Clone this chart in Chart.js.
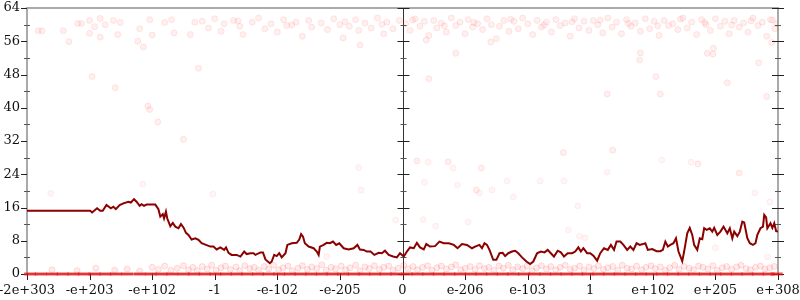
<!DOCTYPE html>
<html>
<head>
<meta charset="utf-8">
<script src="https://cdn.jsdelivr.net/npm/chart.js@4/dist/chart.umd.min.js"></script>
<style>
  body { margin: 0; background: #fff; }
  canvas { display: block; }
</style>
</head>
<body>
<canvas id="grafiek" width="800" height="300"></canvas>
<script>
// tick labels for the x axis (one per axis unit, -6 .. 6)
var tickLabels = ["-2e+303", "-e+203", "-e+102", "-1", "-e-102", "-e-205", "0",
                  "e-206", "e-103", "1", "e+102", "e+205", "e+308"];

// running line (x in axis units)
var lineX = [-6, -4.99, -4.96, -4.88, -4.83, -4.79, -4.73, -4.66, -4.62, -4.58, -4.52, -4.46, -4.38, -4.34, -4.29,
  -4.25, -4.20, -4.17, -4.13, -4.09, -3.95, -3.90, -3.87, -3.83, -3.81, -3.78, -3.76, -3.71, -3.67, -3.63,
  -3.58, -3.54, -3.50, -3.46, -3.42, -3.37, -3.31, -3.26, -3.21, -3.14, -3.07, -3.02, -2.97, -2.91, -2.85,
  -2.82, -2.78, -2.73, -2.65, -2.59, -2.53, -2.49, -2.43, -2.38, -2.35, -2.27, -2.23, -2.19, -2.12, -2.09,
  -2.05, -2.01, -1.97, -1.93, -1.87, -1.84, -1.77, -1.69, -1.65, -1.62, -1.59, -1.56, -1.50, -1.42, -1.37,
  -1.34, -1.32, -1.26, -1.21, -1.16, -1.11, -1.06, -1.01, -0.94, -0.86, -0.78, -0.72, -0.68, -0.62, -0.57,
  -0.51, -0.45, -0.38, -0.33, -0.28, -0.22, -0.15, -0.09, -0.04, 0.02, 0.07, 0.12, 0.18, 0.23, 0.28,
  0.34, 0.38, 0.44, 0.52, 0.59, 0.66, 0.74, 0.82, 0.88, 0.95, 1.03, 1.11, 1.16, 1.23, 1.27,
  1.31, 1.35, 1.39, 1.45, 1.50, 1.55, 1.60, 1.64, 1.69, 1.75, 1.80, 1.85, 1.91, 1.98, 2.04,
  2.09, 2.15, 2.21, 2.27, 2.32, 2.37, 2.42, 2.48, 2.53, 2.58, 2.64, 2.71, 2.76, 2.81, 2.85,
  2.89, 2.95, 3.00, 3.05, 3.11, 3.16, 3.22, 3.28, 3.33, 3.38, 3.42, 3.48, 3.53, 3.59, 3.64,
  3.69, 3.74, 3.79, 3.84, 3.88, 3.92, 3.99, 4.06, 4.12, 4.16, 4.20, 4.24, 4.28, 4.33, 4.37,
  4.41, 4.47, 4.50, 4.55, 4.59, 4.63, 4.66, 4.71, 4.75, 4.79, 4.82, 4.86, 4.91, 4.95, 4.98,
  5.03, 5.08, 5.13, 5.19, 5.23, 5.27, 5.30, 5.35, 5.39, 5.43, 5.46, 5.51, 5.55, 5.60, 5.64,
  5.67, 5.72, 5.76, 5.78, 5.81, 5.83, 5.88, 5.91, 5.94, 5.97, 6.00];
var lineY = [15.2, 15.2, 14.8, 15.8, 15.2, 15.2, 16.6, 15.8, 16.2, 15.6, 16.6, 17.0, 17.4, 17.2, 18.0,
  17.4, 16.4, 16.8, 16.4, 16.7, 16.7, 15.6, 13.8, 14.4, 13.4, 15.0, 13.4, 11.5, 12.3, 11.4,
  11.0, 12.0, 11.2, 9.9, 9.4, 8.3, 8.6, 8.2, 7.4, 7.0, 6.6, 6.6, 5.9, 6.4, 5.8,
  6.4, 5.1, 4.6, 4.6, 4.2, 5.4, 4.8, 5.0, 5.0, 4.6, 5.2, 5.2, 3.5, 2.6, 3.0,
  4.6, 4.3, 5.0, 4.0, 5.0, 7.0, 7.4, 7.5, 8.3, 9.6, 9.0, 7.4, 6.6, 6.2, 5.4,
  4.6, 6.6, 7.0, 7.5, 7.4, 7.8, 7.0, 7.4, 6.2, 5.9, 6.2, 7.0, 5.9, 5.8, 5.4,
  5.4, 4.6, 5.1, 5.0, 5.6, 4.6, 4.2, 4.0, 5.0, 4.2, 5.4, 6.4, 6.2, 7.5, 6.4,
  5.9, 7.2, 6.6, 6.7, 7.8, 7.4, 7.4, 7.0, 6.2, 7.2, 7.0, 6.2, 6.6, 7.0, 6.2,
  7.4, 7.0, 5.8, 3.4, 3.4, 5.0, 5.1, 4.3, 5.0, 5.4, 5.6, 5.0, 4.0, 3.0, 2.4,
  3.0, 5.0, 5.4, 5.2, 5.8, 5.0, 4.2, 5.6, 5.2, 4.2, 5.0, 5.0, 5.4, 6.4, 5.4,
  6.2, 5.0, 5.0, 4.4, 3.2, 5.0, 6.2, 5.8, 7.0, 5.8, 7.8, 7.8, 7.0, 5.8, 6.6,
  5.8, 7.4, 7.0, 7.2, 7.4, 5.8, 6.0, 5.5, 5.5, 5.8, 7.8, 6.6, 7.0, 7.4, 8.6,
  5.4, 3.1, 5.4, 9.8, 11.1, 9.4, 7.0, 5.8, 8.6, 8.4, 11.0, 10.6, 11.0, 10.2, 11.1,
  9.4, 10.2, 11.4, 9.8, 11.0, 8.6, 10.2, 9.1, 10.2, 12.6, 12.4, 8.6, 7.4, 7.0, 7.4,
  9.4, 11.0, 11.4, 14.2, 13.6, 11.0, 12.2, 11.1, 12.2, 10.3, 10.2];

// faint samples near the top
var topX = [-5.82, -5.76, -5.42, -5.33, -5.19, -5.13, -5.00, -4.92, -5.00, -4.83, -4.83, -4.75, -4.96, -4.59,
  -4.62, -4.55, -4.51, -4.23, -4.14, -4.20, -4.04, -4.00, -4.07, -4.04, -3.91, -3.80, -3.69, -3.65, -3.50,
  -3.39, -3.32, -3.26, -3.20, -3.10, -3.00, -2.90, -2.85, -2.70, -2.60, -2.55, -2.40, -2.30, -2.20, -2.10,
  -2.00, -1.90, -1.85, -1.70, -1.60, -1.50, -1.45, -1.30, -1.20, -1.10, -1.00, -0.95, -0.85, -0.75, -0.70,
  -0.60, -0.50, -0.40, -0.30, -0.25, -0.15, -0.05, 0.05, 0.12, 0.20, 0.28, 0.35, 0.42, 0.50, 0.55,
  0.62, 0.70, 0.78, 0.85, 0.92, 1.00, 1.05, 1.12, 1.20, 1.28, 1.35, 1.42, 1.50, 1.55, 1.62,
  1.70, 1.78, 1.85, 1.92, 2.00, 2.08, 2.15, 2.22, 2.30, 2.38, 2.45, 2.52, 2.60, 2.68, 2.75,
  2.82, 2.90, 2.98, 3.05, 3.12, 3.20, 3.28, 3.35, 3.42, 3.50, 3.58, 3.65, 3.72, 3.80, 3.88,
  3.95, 4.02, 4.10, 4.18, 4.25, 4.32, 4.40, 4.48, 4.55, 4.62, 4.70, 4.78, 4.85, 4.92, 5.00,
  5.08, 5.15, 5.22, 5.30, 5.38, 5.45, 5.52, 5.60, 5.68, 5.75, 5.82, 5.88, 5.95, 5.98,
  -0.68, 0.38, 0.42, 0.85, 1.41, 3.27, 3.79, 3.80, 4.05, 4.12, 4.87, 4.96, 4.97, 5.19, 5.69, 5.90, 5.82,
  3.36, 2.57, 0.73, 1.26, 1.18, 4.72, 5.38, 0.23,
  -2.63, -1.77, -0.92, -0.33, 0.16, 0.67, 1.14, 1.73, 2.26, 2.71, 3.16, 3.61, 4.08, 4.44, 4.83, 5.26, 5.57, 5.91];
var topY = [58.5, 58.5, 58.5, 55.9, 60.3, 60.3, 61.0, 59.5, 57.9, 61.5, 57.0, 60.0, 47.5, 44.8,
  61.0, 57.6, 60.5, 56.0, 54.6, 59.0, 61.2, 57.5, 40.4, 39.6, 36.6, 60.5, 61.2, 58.0, 32.4,
  57.6, 60.6, 49.5, 60.8, 59.2, 61.4, 58.4, 60.2, 61.0, 59.6, 57.6, 60.6, 61.6, 59.0, 60.2,
  58.2, 61.2, 59.8, 60.6, 57.2, 61.0, 59.4, 60.4, 58.8, 61.4, 60.0, 56.8, 59.6, 61.2, 58.6,
  60.4, 59.2, 61.6, 57.8, 60.6, 59.0, 61.0, 60.2, 58.6, 61.4, 59.6, 60.8, 57.4, 61.0, 59.2,
  60.4, 58.2, 61.6, 59.8, 60.6, 57.8, 61.2, 59.4, 60.2, 58.8, 61.4, 60.0, 56.6, 59.6, 61.0,
  58.4, 60.8, 59.0, 61.6, 60.2, 57.6, 61.0, 59.4, 60.6, 58.2, 61.2, 59.8, 60.4, 57.2, 61.4,
  59.2, 60.8, 58.6, 61.0, 60.0, 58.0, 61.6, 59.4, 60.6, 57.8, 61.2, 59.6, 60.4, 58.4, 61.4,
  59.0, 60.8, 57.4, 61.0, 59.8, 60.2, 58.8, 61.6, 59.2, 60.6, 57.6, 61.2, 60.0, 58.6, 61.4,
  59.6, 60.8, 57.8, 61.0, 59.4, 60.4, 58.2, 61.6, 59.8, 60.6, 57.2, 61.2, 59.0, 60.2,
  55.1, 56.3, 47.0, 53.1, 55.8, 43.3, 51.5, 53.2, 47.5, 43.3, 53.1, 52.9, 54.3, 46.0, 50.8, 55.7, 42.7,
  29.8, 29.2, 27.0, 25.5, 20.2, 26.5, 24.3, 27.2,
  60.9, 59.9, 60.7, 60.1, 61.1, 59.7, 60.5, 61.3, 59.9, 60.7, 61.1, 60.3, 59.7, 61.3, 60.5, 59.9, 60.9, 61.1];

// faint samples in the middle of the chart
var midX = [-5.62, -4.15, -3.03, -0.70, -0.66, -0.11, 0.35, 0.41, 0.88, 0.81, 0.33, 0.53, 1.05, 1.23, 1.43,
  1.67, 1.77, 2.20, 2.58, 2.80, 2.83, 2.92, 2.65, 3.27, 4.14, 4.61, 5.63, 5.87, 5.00, 5.83, -1.21];
var midY = [19.4, 21.6, 19.2, 25.6, 20.2, 13.0, 22.1, 26.9, 21.4, 25.5, 13.1, 11.5, 12.5, 19.5, 20.2,
  22.4, 18.5, 22.4, 22.4, 16.4, 9.1, 8.7, 10.6, 24.5, 27.4, 26.9, 19.5, 17.3, 6.3, 4.1, 4.2];

// faint samples just above zero
var lowX = [-5.6, -5.2, -4.9, -4.6, -4.4, -4.2, -4.0, -3.9, -3.8, -3.7, -3.6, -3.5, -3.42, -3.35, -3.28,
  -3.2, -3.12, -3.05, -2.98, -2.9, -2.83, -2.75, -2.66, -2.6, -2.52, -2.44, -2.37, -2.3, -2.21, -2.14,
  -2.06, -1.98, -1.91, -1.83, -1.76, -1.67, -1.6, -1.52, -1.45, -1.37, -1.29, -1.22, -1.14, -1.07, -0.98,
  -0.91, -0.84, -0.75, -0.68, -0.6, -0.53, -0.45, -0.37, -0.3, -0.22, -0.15, -0.07, 0.02, 0.09, 0.17,
  0.24, 0.32, 0.4, 0.47, 0.55, 0.62, 0.7, 0.78, 0.85, 0.93, 1.0, 1.08, 1.16, 1.23, 1.31,
  1.38, 1.46, 1.54, 1.61, 1.69, 1.76, 1.84, 1.92, 1.99, 2.07, 2.14, 2.22, 2.3, 2.37, 2.45,
  2.52, 2.6, 2.68, 2.75, 2.83, 2.9, 2.98, 3.06, 3.13, 3.21, 3.28, 3.36, 3.44, 3.51, 3.59,
  3.66, 3.74, 3.82, 3.89, 3.97, 4.04, 4.12, 4.2, 4.27, 4.35, 4.42, 4.5, 4.58, 4.65, 4.73,
  4.8, 4.88, 4.96, 5.03, 5.11, 5.18, 5.26, 5.34, 5.41, 5.49, 5.56, 5.64, 5.72, 5.79, 5.87, 5.94];
var lowY = [1.0, 0.8, 1.4, 0.9, 1.2, 0.7, 1.6, 1.1, 1.9, 0.9, 1.4, 2.0, 1.0, 1.6, 0.8,
  1.8, 1.2, 2.1, 0.9, 1.5, 1.9, 1.1, 1.7, 0.8, 2.0, 1.3, 1.6, 0.9, 1.8, 1.2,
  2.1, 1.0, 1.5, 1.9, 0.8, 1.4, 2.0, 1.1, 1.7, 1.3, 2.2, 0.9, 1.6, 1.2, 1.9,
  1.0, 1.5, 2.1, 0.8, 1.7, 1.3, 2.0, 1.1, 1.6, 1.9, 0.9, 1.4, 2.1, 1.2, 1.8,
  1.0, 1.6, 2.0, 0.9, 1.5, 1.9, 1.2, 1.7, 2.2, 1.0, 1.4, 1.8, 1.1, 2.0, 1.3,
  1.6, 0.9, 1.9, 1.4, 2.1, 1.0, 1.7, 1.3, 1.9, 0.8, 1.5, 2.0, 1.2, 1.8, 1.0,
  1.6, 2.1, 1.1, 1.4, 1.9, 0.9, 1.7, 1.3, 2.0, 1.1, 1.5, 1.8, 0.9, 2.1, 1.4,
  1.2, 1.9, 1.0, 1.6, 2.0, 1.3, 1.7, 0.9, 1.5, 2.1, 1.1, 1.8, 1.4, 1.0, 1.9,
  1.6, 1.2, 2.0, 0.9, 1.5, 1.8, 1.1, 1.7, 2.1, 1.3, 1.0, 1.6, 1.9, 1.2, 1.5, 1.8];

// samples lying on zero
var zeroX = [-5.95, -5.78, -5.6, -5.43, -5.26, -5.09, -4.92, -4.75, -4.58, -4.4, -4.2, -4.02, -3.85, -3.68,
  -3.5, -3.33, -3.16, -2.99, -2.82, -2.65, -2.48, -2.31, -2.14, -1.97, -1.8, -1.63, -1.46, -1.29, -1.12,
  -0.95, -0.78, -0.61, -0.44, -0.27, -0.1, 0.07, 0.24, 0.41, 0.58, 0.75, 0.92, 1.09, 1.26, 1.43,
  1.6, 1.77, 1.94, 2.11, 2.28, 2.45, 2.62, 2.79, 2.96, 3.13, 3.3, 3.47, 3.64, 3.81, 3.98,
  4.15, 4.32, 4.49, 4.66, 4.83, 5.0, 5.17, 5.34, 5.51, 5.68, 5.85, 5.98];

function pts(xs, ys) {
    var out = [];
    for (var i = 0; i < xs.length; i++) out.push({ x: xs[i], y: ys[i] });
    return out;
}

function zeros(xs) {
    var out = [];
    for (var i = 0; i < xs.length; i++) out.push({ x: xs[i], y: 0 });
    return out;
}

var fontSerif = { family: "'DejaVu Serif', serif", size: 13 };

// frame, middle axis and tick marks
var assenPlugin = {
    id: 'assen',
    beforeDatasetsDraw: function(chart) {
        var ctx = chart.ctx, a = chart.chartArea, x = chart.scales.x, y = chart.scales.y;
        ctx.save();
        ctx.strokeStyle = '#aaaaaa';
        ctx.lineWidth = 2;
        ctx.beginPath();
        ctx.moveTo(a.left, a.bottom);
        ctx.lineTo(a.left, a.top);
        ctx.lineTo(a.right, a.top);
        ctx.lineTo(a.right, a.bottom);
        ctx.lineTo(a.left, a.bottom);
        ctx.stroke();

        var mid = Math.round(x.getPixelForValue(0)) + 0.5;
        ctx.strokeStyle = '#333333';
        ctx.lineWidth = 1;
        ctx.beginPath();
        ctx.moveTo(mid, a.top);
        ctx.lineTo(mid, a.bottom);
        ctx.stroke();

        for (var v = 0; v <= 64; v += 4) {
            var py = Math.round(y.getPixelForValue(v)) + 0.5;
            var major = v % 8 === 0;
            ctx.strokeStyle = major ? '#222222' : '#555555';
            ctx.beginPath();
            if (major) {
                ctx.moveTo(a.left - 6, py); ctx.lineTo(a.left, py);
                ctx.moveTo(mid - 6, py); ctx.lineTo(mid + 6, py);
                ctx.moveTo(a.right - 6, py); ctx.lineTo(a.right + 6, py);
            } else {
                ctx.moveTo(a.left - 3, py); ctx.lineTo(a.left + 3, py);
                ctx.moveTo(mid - 3, py); ctx.lineTo(mid + 3, py);
                ctx.moveTo(a.right - 3, py); ctx.lineTo(a.right + 3, py);
            }
            ctx.stroke();
        }
        ctx.strokeStyle = '#222222';
        for (var t = -6; t <= 6; t++) {
            var px = Math.round(x.getPixelForValue(t)) + 0.5;
            ctx.beginPath();
            ctx.moveTo(px, a.bottom - 1);
            ctx.lineTo(px, a.bottom + 6);
            ctx.stroke();
        }
        ctx.restore();
    }
};

var ctx = document.getElementById("grafiek").getContext('2d');
var grafiek = new Chart(ctx, {
    type: 'scatter',
    data: {
        datasets: [{
            type: 'line',
            label: 'lopend',
            data: pts(lineX, lineY),
            borderColor: '#8b0000',
            borderWidth: 2,
            pointRadius: 0,
            tension: 0,
            fill: false
        }, {
            label: 'nul',
            data: zeros(zeroX),
            clip: false,
            pointStyle: 'line',
            pointRadius: 6,
            borderWidth: 3,
            borderColor: 'rgba(235, 20, 20, 0.75)',
            backgroundColor: 'rgba(235, 20, 20, 0.75)'
        }, {
            label: 'laag',
            data: pts(lowX, lowY),
            pointRadius: 3,
            borderWidth: 1,
            borderColor: 'rgba(255, 0, 0, 0.12)',
            backgroundColor: 'rgba(255, 0, 0, 0.08)'
        }, {
            label: 'midden',
            data: pts(midX, midY),
            pointRadius: 3,
            borderWidth: 1,
            borderColor: 'rgba(255, 0, 0, 0.06)',
            backgroundColor: 'rgba(255, 0, 0, 0.04)'
        }, {
            label: 'hoog',
            data: pts(topX, topY),
            pointRadius: 3,
            borderWidth: 1,
            borderColor: 'rgba(255, 0, 0, 0.09)',
            backgroundColor: 'rgba(255, 0, 0, 0.06)'
        }]
    },
    options: {
        responsive: false,
        animation: false,
        layout: { autoPadding: false, padding: { top: 8, right: 22, left: 0, bottom: 0 } },
        plugins: { legend: { display: false }, tooltip: { enabled: false } },
        scales: {
            x: {
                type: 'linear',
                min: -6,
                max: 6,
                grid: { display: false, drawTicks: false },
                border: { display: false },
                ticks: {
                    stepSize: 1,
                    autoSkip: false,
                    maxRotation: 0,
                    padding: 9,
                    color: '#111',
                    font: fontSerif,
                    callback: function(value) { return tickLabels[value + 6]; }
                },
                afterFit: function(scale) {
                    scale.height = 26;
                    scale.paddingLeft = 0;
                    scale.paddingRight = 0;
                }
            },
            y: {
                min: 0,
                max: 64,
                grid: { display: false, drawTicks: false },
                border: { display: false },
                ticks: {
                    stepSize: 8,
                    padding: 7,
                    color: '#111',
                    font: fontSerif
                },
                afterFit: function(scale) {
                    scale.width = 27;
                    scale.paddingTop = 0;
                    scale.paddingBottom = 0;
                }
            }
        }
    },
    plugins: [assenPlugin]
});
</script>
</body>
</html>
